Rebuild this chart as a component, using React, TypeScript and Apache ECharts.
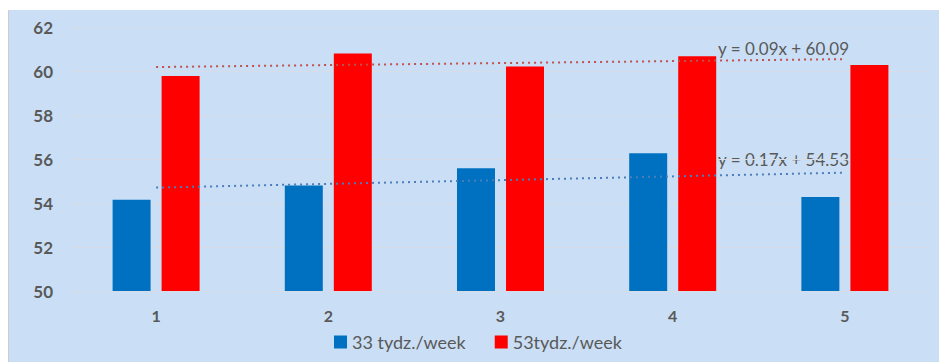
import React, { useEffect, useRef } from "react";
import * as echarts from "echarts";

// Categories and measured values
const categories = ["1", "2", "3", "4", "5"];
const week33 = [54.15, 54.8, 55.58, 56.26, 54.27];
const week53 = [59.77, 60.8, 60.2, 60.67, 60.27];
const seriesNames = ["33 tydz./week", "53tydz./week"];

// Linear trend coefficients (slope, intercept)
const trend33 = { slope: 0.17, intercept: 54.53 };
const trend53 = { slope: 0.09, intercept: 60.09 };

const trendLabel = (t: { slope: number; intercept: number }) =>
  `y = ${t.slope.toFixed(2)}x + ${t.intercept.toFixed(2)}`;
const trendValues = (t: { slope: number; intercept: number }) =>
  categories.map((c) => +(t.slope * Number(c) + t.intercept).toFixed(3));

const FONT = "Lato, 'Open Sans', sans-serif";
const GREY = "#595959";

export default function App() {
  const ref = useRef<HTMLDivElement>(null);

  useEffect(() => {
    if (!ref.current) return;
    const chart = echarts.init(ref.current, undefined, { renderer: "svg" });
    chart.setOption({
      animation: false,
      backgroundColor: "#cadff5",
      textStyle: { fontFamily: FONT },
      grid: { left: 61, top: 17, width: 861, height: 264 },
      legend: {
        data: seriesNames,
        left: 320,
        top: 318,
        itemWidth: 13,
        itemHeight: 13,
        itemGap: 29,
        icon: "rect",
        textStyle: { color: GREY, fontSize: 18, fontFamily: FONT },
      },
      xAxis: {
        type: "category",
        data: categories,
        axisLine: { show: false },
        axisTick: { show: false },
        axisLabel: {
          color: GREY,
          fontSize: 16,
          fontWeight: "bold",
          margin: 16,
          fontFamily: FONT,
        },
      },
      yAxis: {
        type: "value",
        min: 50,
        max: 62,
        interval: 2,
        axisLine: { show: false },
        axisTick: { show: false },
        axisLabel: {
          color: GREY,
          fontSize: 17,
          fontWeight: "bold",
          margin: 17,
          fontFamily: FONT,
        },
        splitLine: { lineStyle: { color: "#d6dde6", width: 1 } },
      },
      series: [
        {
          name: seriesNames[0],
          type: "bar",
          data: week33,
          barWidth: 38,
          barGap: "29%",
          itemStyle: { color: "#0070c0" },
        },
        {
          name: seriesNames[1],
          type: "bar",
          data: week53,
          barWidth: 38,
          barGap: "29%",
          itemStyle: { color: "#ff0000" },
        },
        {
          name: "trend33",
          type: "line",
          data: trendValues(trend33),
          symbol: "none",
          z: 5,
          lineStyle: { color: "#4a7ebb", width: 2, type: [2, 4] },
        },
        {
          name: "trend53",
          type: "line",
          data: trendValues(trend53),
          symbol: "none",
          z: 5,
          lineStyle: { color: "#c0504d", width: 2, type: [2, 4] },
        },
      ],
      graphic: [
        {
          type: "text",
          left: 709,
          top: 30,
          style: {
            text: trendLabel(trend53),
            fill: GREY,
            fontSize: 17,
            fontFamily: FONT,
          },
        },
        {
          type: "text",
          left: 709,
          top: 141,
          style: {
            text: trendLabel(trend33),
            fill: GREY,
            fontSize: 17,
            fontFamily: FONT,
          },
        },
      ],
    });
    return () => chart.dispose();
  }, []);

  return (
    <div
      style={{
        position: "absolute",
        left: 8,
        top: 10,
        width: 930,
        height: 352,
        borderLeft: "1px solid #cfcccc",
      }}
    >
      <div ref={ref} style={{ width: 930, height: 352 }} />
    </div>
  );
}
